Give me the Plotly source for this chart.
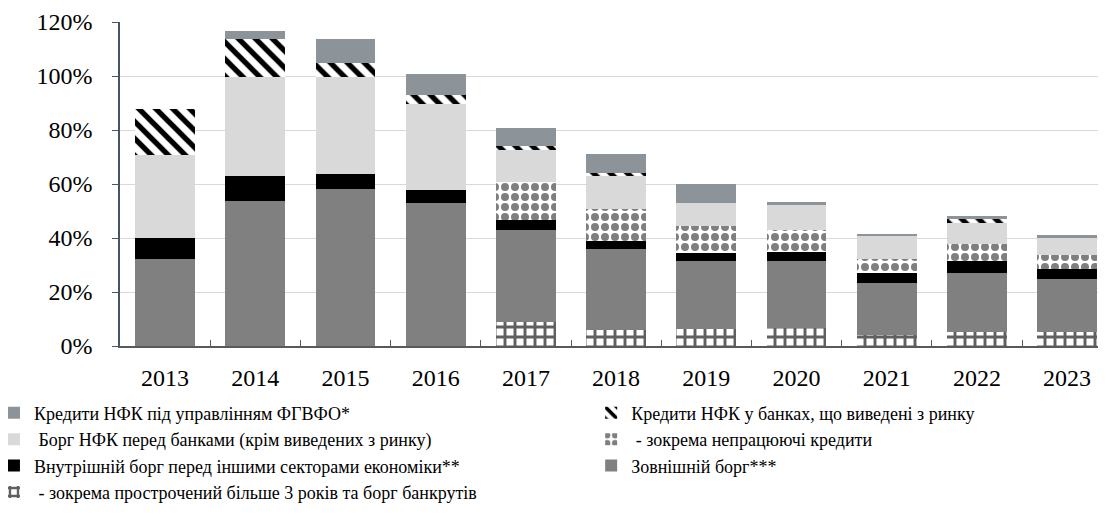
import plotly.graph_objects as go

years = ["2013", "2014", "2015", "2016", "2017", "2018", "2019", "2020", "2021", "2022", "2023"]
external_debt = [32.1, 53.8, 58.0, 52.8, 43.0, 35.9, 31.6, 31.6, 23.2, 27.2, 24.7]
overdue_bankrupt = [0, 0, 0, 0, 9.0, 5.9, 6.2, 6.8, 4.1, 5.3, 5.1]
domestic_debt = [7.8, 9.2, 5.7, 5.0, 3.7, 3.1, 2.7, 3.3, 4.0, 4.3, 3.8]
bank_debt = [30.8, 36.7, 36.0, 31.8, 25.9, 24.0, 18.8, 17.3, 13.9, 14.2, 11.4]
npl = [0, 0, 0, 0, 14.2, 11.6, 10.1, 8.1, 5.0, 6.1, 5.2]
withdrawn_banks = [17.0, 14.0, 5.0, 3.4, 1.5, 1.2, 0, 0, 0, 1.3, 0]
fgvfo_loans = [0, 3.0, 9.0, 7.7, 6.8, 6.8, 6.9, 1.2, 0.4, 1.3, 1.2]

ext_rest = [round(e - o, 2) for e, o in zip(external_debt, overdue_bankrupt)]
bank_rest = [round(b - n, 2) for b, n in zip(bank_debt, npl)]

FONT = "Liberation Serif"
fig = go.Figure()

def add(name, vals, color, legend, rank, pattern=None):
    marker = dict(color=color, line=dict(width=0))
    if pattern:
        marker["pattern"] = pattern
    fig.add_trace(go.Bar(x=years, y=vals, name=name, marker=marker,
                         legend=legend, legendrank=rank,
                         hoverinfo="x+y+name"))

add(" - зокрема прострочений більше 3 років та борг банкрутів", overdue_bankrupt, "white", "legend", 4,
    dict(shape="+", fgcolor="#606060", bgcolor="white", fgopacity=1, size=10, solidity=0.5))
add("Зовнішній борг***", ext_rest, "#808080", "legend2", 3)
add("Внутрішній борг перед іншими секторами економіки**", domestic_debt, "#000000", "legend", 3)
add(" - зокрема непрацюючі кредити", npl, "white", "legend2", 2,
    dict(shape=".", fgcolor="#7f7f7f", bgcolor="white", fgopacity=1, size=10, solidity=0.5))
add(" Борг НФК перед банками (крім виведених з ринку)", bank_rest, "#d9d9d9", "legend", 2)
add("Кредити НФК у банках, що виведені з ринку", withdrawn_banks, "white", "legend2", 1,
    dict(shape="\\", fgcolor="#000000", bgcolor="white", fgopacity=1, size=12, solidity=0.45))
add("Кредити НФК під управлінням ФГВФО*", fgvfo_loans, "#8d9499", "legend", 1)

legend_common = dict(xanchor="left", yanchor="top", orientation="v",
                     traceorder="normal", font=dict(size=18, family=FONT),
                     bgcolor="rgba(0,0,0,0)", tracegroupgap=0, borderwidth=0)

fig.update_layout(
    width=1106, height=520,
    barmode="stack", bargap=0.335,
    plot_bgcolor="white", paper_bgcolor="white",
    margin=dict(l=112, r=0, t=14, b=182, autoexpand=False),
    font=dict(family=FONT, color="black"),
    legend=dict(x=-0.1268, y=-0.150, **legend_common),
    legend2=dict(x=0.474, y=-0.150, **legend_common),
    xaxis=dict(type="category", range=[-0.5, 10.52],
               showline=True, linecolor="#595959", linewidth=1.5,
               ticks="inside", tickson="boundaries", ticklen=6, tickcolor="#595959",
               tickfont=dict(size=24, family=FONT), ticklabelstandoff=9,
               tickangle=0, showgrid=False),
    yaxis=dict(range=[0, 120], dtick=20, ticksuffix="%",
               showline=True, linecolor="#44546a", linewidth=1.5,
               ticks="outside", ticklen=6, tickcolor="#44546a",
               tickfont=dict(size=24, family=FONT), ticklabelstandoff=15,
               gridcolor="#d9d9d9", gridwidth=1, zeroline=False),
)

fig.write_html("out.html")
